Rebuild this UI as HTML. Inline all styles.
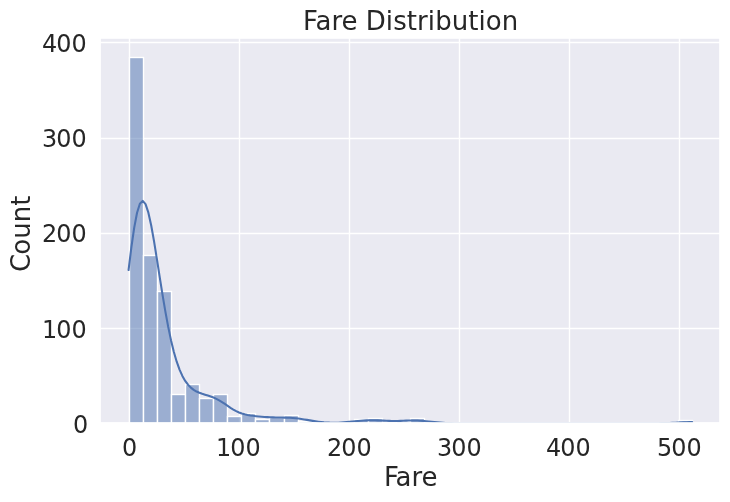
<!DOCTYPE html>
<html lang="en">
<head>
<meta charset="utf-8">
<title>Fare Distribution</title>
<style>
html,body{margin:0;padding:0;background:#fff;}
body{width:730px;height:502px;overflow:hidden;}
svg{display:block;}
text{font-family:"DejaVu Sans","Liberation Sans",sans-serif;fill:#262626;}
.tick{font-size:23.9px;}
.lab{font-size:26.0px;}
.ttl{font-size:26.0px;}
</style>
</head>
<body>
<svg width="730" height="502" viewBox="0 0 730 502">
<rect x="0" y="0" width="730" height="502" fill="#ffffff"/>
<rect x="100.375" y="38.250" width="620.000" height="385.000" fill="#eaeaf2"/>
<g stroke="#ffffff" stroke-width="1.389" fill="none">
<line x1="129.50" y1="38.250" x2="129.50" y2="423.250"/>
<line x1="239.50" y1="38.250" x2="239.50" y2="423.250"/>
<line x1="349.50" y1="38.250" x2="349.50" y2="423.250"/>
<line x1="459.50" y1="38.250" x2="459.50" y2="423.250"/>
<line x1="569.50" y1="38.250" x2="569.50" y2="423.250"/>
<line x1="679.50" y1="38.250" x2="679.50" y2="423.250"/>
<line x1="100.375" y1="423.50" x2="720.375" y2="423.50"/>
<line x1="100.375" y1="328.50" x2="720.375" y2="328.50"/>
<line x1="100.375" y1="233.50" x2="720.375" y2="233.50"/>
<line x1="100.375" y1="138.50" x2="720.375" y2="138.50"/>
<line x1="100.375" y1="42.50" x2="720.375" y2="42.50"/>
</g>
<defs><clipPath id="axclip"><rect x="100.375" y="38.250" width="620.000" height="385.000"/></clipPath></defs>
<g clip-path="url(#axclip)" fill="#4c72b0" fill-opacity="0.5" stroke="#ffffff" stroke-width="1.389">
<rect x="129.5" y="57.5" width="14.0" height="366.0"/>
<rect x="143.5" y="255.5" width="14.0" height="168.0"/>
<rect x="157.5" y="291.5" width="14.0" height="132.0"/>
<rect x="171.5" y="394.5" width="14.0" height="29.0"/>
<rect x="185.5" y="384.5" width="14.0" height="39.0"/>
<rect x="199.5" y="398.5" width="14.0" height="25.0"/>
<rect x="213.5" y="394.5" width="14.0" height="29.0"/>
<rect x="227.5" y="416.5" width="14.0" height="7.0"/>
<rect x="241.5" y="413.5" width="14.0" height="10.0"/>
<rect x="255.5" y="419.5" width="14.0" height="4.0"/>
<rect x="269.5" y="417.5" width="15.0" height="6.0"/>
<rect x="284.5" y="415.5" width="14.0" height="8.0"/>
<rect x="298.5" y="421.5" width="14.0" height="2.0"/>
<rect x="312.5" y="423.5" width="14.0" height="0.0"/>
<rect x="326.5" y="423.5" width="14.0" height="0.0"/>
<rect x="340.5" y="423.5" width="14.0" height="0.0"/>
<rect x="354.5" y="419.5" width="14.0" height="4.0"/>
<rect x="368.5" y="418.5" width="14.0" height="5.0"/>
<rect x="382.5" y="423.5" width="14.0" height="0.0"/>
<rect x="396.5" y="421.5" width="14.0" height="2.0"/>
<rect x="410.5" y="418.5" width="14.0" height="5.0"/>
<rect x="424.5" y="423.5" width="15.0" height="0.0"/>
<rect x="439.5" y="423.5" width="14.0" height="0.0"/>
<rect x="453.5" y="423.5" width="14.0" height="0.0"/>
<rect x="467.5" y="423.5" width="14.0" height="0.0"/>
<rect x="481.5" y="423.5" width="14.0" height="0.0"/>
<rect x="495.5" y="423.5" width="14.0" height="0.0"/>
<rect x="509.5" y="423.5" width="14.0" height="0.0"/>
<rect x="523.5" y="423.5" width="14.0" height="0.0"/>
<rect x="537.5" y="423.5" width="14.0" height="0.0"/>
<rect x="551.5" y="423.5" width="14.0" height="0.0"/>
<rect x="565.5" y="423.5" width="14.0" height="0.0"/>
<rect x="579.5" y="423.5" width="15.0" height="0.0"/>
<rect x="594.5" y="423.5" width="14.0" height="0.0"/>
<rect x="608.5" y="423.5" width="14.0" height="0.0"/>
<rect x="622.5" y="423.5" width="14.0" height="0.0"/>
<rect x="636.5" y="423.5" width="14.0" height="0.0"/>
<rect x="650.5" y="423.5" width="14.0" height="0.0"/>
<rect x="664.5" y="423.5" width="14.0" height="0.0"/>
<rect x="678.5" y="420.5" width="14.0" height="3.0"/>
</g>
<path clip-path="url(#axclip)" d="M128.56 270.03 L131.39 247.19 L134.22 227.61 L137.05 212.77 L139.89 203.71 L142.72 200.87 L145.55 204.09 L148.38 212.67 L151.22 225.51 L154.05 241.35 L156.88 258.92 L159.71 277.07 L162.54 294.87 L165.38 311.64 L168.21 326.91 L171.04 340.39 L173.87 351.98 L176.71 361.68 L179.54 369.61 L182.37 375.94 L185.20 380.90 L188.04 384.73 L190.87 387.65 L193.70 389.86 L196.53 391.54 L199.37 392.82 L202.20 393.85 L205.03 394.73 L207.86 395.58 L210.69 396.50 L213.53 397.57 L216.36 398.86 L219.19 400.37 L222.02 402.09 L224.86 403.96 L227.69 405.89 L230.52 407.79 L233.35 409.56 L236.19 411.12 L239.02 412.44 L241.85 413.51 L244.68 414.33 L247.52 414.97 L250.35 415.45 L253.18 415.84 L256.01 416.16 L258.84 416.45 L261.68 416.71 L264.51 416.94 L267.34 417.14 L270.17 417.29 L273.01 417.41 L275.84 417.49 L278.67 417.54 L281.50 417.58 L284.34 417.63 L287.17 417.71 L290.00 417.83 L292.83 418.01 L295.67 418.26 L298.50 418.59 L301.33 418.98 L304.16 419.42 L306.99 419.89 L309.83 420.37 L312.66 420.85 L315.49 421.29 L318.32 421.69 L321.16 422.03 L323.99 422.31 L326.82 422.52 L329.65 422.66 L332.49 422.73 L335.32 422.73 L338.15 422.67 L340.98 422.55 L343.81 422.37 L346.65 422.14 L349.48 421.88 L352.31 421.60 L355.14 421.30 L357.98 421.03 L360.81 420.78 L363.64 420.57 L366.47 420.41 L369.31 420.32 L372.14 420.28 L374.97 420.31 L377.80 420.38 L380.64 420.49 L383.47 420.62 L386.30 420.75 L389.13 420.86 L391.96 420.93 L394.80 420.95 L397.63 420.93 L400.46 420.86 L403.29 420.76 L406.13 420.64 L408.96 420.55 L411.79 420.48 L414.62 420.48 L417.46 420.55 L420.29 420.69 L423.12 420.90 L425.95 421.17 L428.79 421.47 L431.62 421.78 L434.45 422.09 L437.28 422.36 L440.11 422.60 L442.95 422.79 L445.78 422.94 L448.61 423.05 L451.44 423.12 L454.28 423.17 L457.11 423.21 L459.94 423.23 L462.77 423.24 L465.61 423.24 L468.44 423.25 L471.27 423.25 L474.10 423.25 L476.94 423.25 L479.77 423.25 L482.60 423.25 L485.43 423.25 L488.26 423.25 L491.10 423.25 L493.93 423.25 L496.76 423.25 L499.59 423.25 L502.43 423.25 L505.26 423.25 L508.09 423.25 L510.92 423.25 L513.76 423.25 L516.59 423.25 L519.42 423.25 L522.25 423.25 L525.08 423.25 L527.92 423.25 L530.75 423.25 L533.58 423.25 L536.41 423.25 L539.25 423.25 L542.08 423.25 L544.91 423.25 L547.74 423.25 L550.58 423.25 L553.41 423.25 L556.24 423.25 L559.07 423.25 L561.91 423.25 L564.74 423.25 L567.57 423.25 L570.40 423.25 L573.23 423.25 L576.07 423.25 L578.90 423.25 L581.73 423.25 L584.56 423.25 L587.40 423.25 L590.23 423.25 L593.06 423.25 L595.89 423.25 L598.73 423.25 L601.56 423.25 L604.39 423.25 L607.22 423.25 L610.06 423.25 L612.89 423.25 L615.72 423.25 L618.55 423.25 L621.38 423.25 L624.22 423.25 L627.05 423.25 L629.88 423.25 L632.71 423.25 L635.55 423.25 L638.38 423.25 L641.21 423.25 L644.04 423.25 L646.88 423.24 L649.71 423.24 L652.54 423.23 L655.37 423.21 L658.21 423.19 L661.04 423.15 L663.87 423.10 L666.70 423.03 L669.53 422.94 L672.37 422.83 L675.20 422.70 L678.03 422.56 L680.86 422.42 L683.70 422.30 L686.53 422.20 L689.36 422.13 L692.19 422.11" fill="none" stroke="#4c72b0" stroke-width="2.083" stroke-linejoin="round" stroke-linecap="round"/>
<path fill="#ffffff" fill-rule="evenodd" d="M0 0H730V502H0Z M100.85 38.85H719.15V423.00H100.85Z"/>
<rect x="100" y="422" width="620" height="1" fill="#ffffff" fill-opacity="0.85"/>
<text id="xt0" class="tick" x="121.974" y="456.000">0</text>
<text id="xt100" class="tick" x="215.953 230.359 245.515" y="456.000">100</text>
<text id="xt200" class="tick" x="326.973 341.129 356.535" y="456.000">200</text>
<text id="xt300" class="tick" x="436.983 451.139 466.545" y="456.000">300</text>
<text id="xt400" class="tick" x="545.993 560.149 575.555" y="456.000">400</text>
<text id="xt500" class="tick" x="656.888 671.294 686.450" y="456.000">500</text>
<text id="yt0" class="tick" x="72.928" y="433.000">0</text>
<text id="yt100" class="tick" x="41.991 56.147 71.553" y="338.000">100</text>
<text id="yt200" class="tick" x="41.991 56.147 71.553" y="242.000">200</text>
<text id="yt300" class="tick" x="41.991 56.147 71.553" y="147.000">300</text>
<text id="yt400" class="tick" x="41.991 56.147 71.553" y="52.000">400</text>
<text id="xlab" class="lab" x="383.962 395.525 411.462 421.572" y="486.000">Fare</text>
<text id="ylab" class="lab" transform="translate(30.000 0) rotate(-90)" x="-272.034 -254.644 -238.738 -222.253 -205.769" y="0">Count</text>
<text id="ttl" class="ttl" x="302.986 315.548 331.486 341.595 357.845 365.861 385.627 393.345 406.642 417.095 427.783 435.252 451.767 468.236 478.439 485.658 501.814" y="30.000">Fare Distribution</text>
</svg>
</body>
</html>
